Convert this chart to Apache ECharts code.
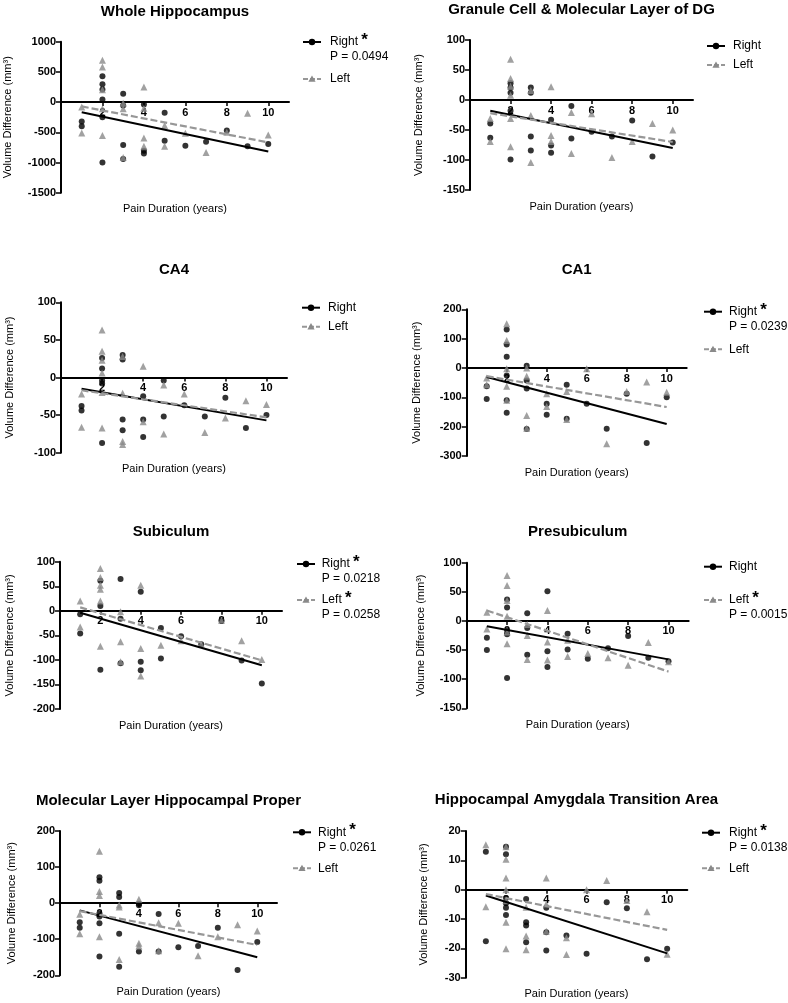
<!DOCTYPE html>
<html>
<head>
<meta charset="utf-8">
<script src="https://cdn.jsdelivr.net/npm/echarts@6/dist/echarts.min.js"></script>
<style>
html,body{margin:0;padding:0;background:#fff;}
#chart{width:788px;height:1003px;}
</style>
</head>
<body>
<div id="chart"></div>
<script>
// ---------- DATA ----------
const titles = ["Whole Hippocampus", "Granule Cell & Molecular Layer of DG", "CA4", "CA1",
  "Subiculum", "Presubiculum", "Molecular Layer Hippocampal Proper", "Hippocampal Amygdala Transition Area"];
const xTicks = [2, 4, 6, 8, 10];
const xTitle = "Pain Duration (years)";
const yTitle = "Volume Difference (mm³)";
const yMins = [-1500, -150, -100, -300, -200, -150, -200, -30];
const yMaxs = [1000, 100, 100, 200, 100, 100, 200, 20];
const yIntervals = [500, 50, 50, 100, 50, 50, 100, 10];
const pRight = ["0.0494", null, null, "0.0239", "0.0218", null, "0.0261", "0.0138"];
const pLeft = [null, null, null, null, "0.0258", "0.0015", null, null];

const whole_right = [[1,-320],[1,-400],[2,430],[2,295],[2,210],[2,45],[2,-250],[2,-1000],[3,139],[3,-55],[3,-711],[3,-944],[4,-39],[4,-805],[4,-850],[5,-178],[5,-639],[6,-722],[7,-655],[8,-472],[9,-733],[10,-694]];
const whole_left = [[1,-83],[1,-511],[2,694],[2,583],[2,205],[2,-111],[2,-555],[3,-17],[3,-111],[3,-917],[4,250],[4,-100],[4,-594],[4,-733],[5,-389],[5,-733],[6,-517],[7,-833],[8,-500],[9,-183],[10,-544]];
const whole_right_fit = [[1,-167],[10,-817]];
const whole_left_fit = [[1,-72],[10,-667]];

const dg_right = [[1,-39],[1,-63],[2,28],[2,21],[2,12],[2,-18],[2,-99],[3,21],[3,12],[3,-61],[3,-84],[4,-33],[4,-76],[4,-88],[5,-10],[5,-64],[6,-53],[7,-61],[8,-34],[9,-94],[10,-71]];
const dg_left = [[1,-31],[1,-69],[2,68],[2,36],[2,23],[2,8],[2,-31],[2,-78],[3,16],[3,-26],[3,-104],[4,22],[4,-59],[4,-69],[5,-21],[5,-89],[6,-23],[7,-96],[8,-69],[9,-39],[10,-50]];
const dg_right_fit = [[1,-18],[10,-80]];
const dg_left_fit = [[1,-22],[10,-70]];

const ca4_right = [[1,-38],[1,-44],[2,26],[2,12],[2,-4],[2,-8],[2,-87],[3,30],[3,24],[3,-56],[3,-70],[4,-25],[4,-56],[4,-79],[5,-4],[5,-52],[6,-37],[7,-52],[8,-27],[9,-67],[10,-50]];
const ca4_left = [[1,-22],[1,-66],[2,63],[2,35],[2,23],[2,6],[2,-20],[2,-67],[3,28],[3,-21],[3,-85],[3,-89],[4,15],[4,-59],[5,-10],[5,-75],[6,-22],[7,-73],[8,-54],[9,-31],[10,-36]];
const ca4_right_fit = [[1,-15],[10,-57]];
const ca4_left_fit = [[1,-17],[10,-53]];

const ca1_right = [[1,-62],[1,-106],[2,131],[2,80],[2,38],[2,-26],[2,-110],[2,-153],[3,8],[3,-43],[3,-70],[3,-208],[4,-122],[4,-159],[5,-57],[5,-173],[6,-122],[7,-207],[8,-88],[9,-256],[10,-100]];
const ca1_left = [[1,-34],[1,-57],[2,151],[2,94],[2,-3],[2,-62],[2,-110],[3,0],[3,-28],[3,-162],[3,-205],[4,-88],[4,-131],[5,-80],[5,-176],[6,-3],[7,-258],[8,-80],[9,-48],[10,-83]];
const ca1_right_fit = [[1,-31],[10,-191]];
const ca1_left_fit = [[1,-28],[10,-133]];

const sub_right = [[1,-7],[1,-46],[2,61],[2,10],[2,-120],[3,65],[3,-16],[3,-107],[4,39],[4,-104],[4,-121],[5,-35],[5,-97],[6,-52],[7,-68],[8,-19],[9,-101],[10,-148]];
const sub_left = [[1,20],[1,-33],[2,86],[2,68],[2,52],[2,44],[2,20],[2,-72],[3,-2],[3,-63],[3,-104],[4,52],[4,-77],[4,-133],[5,-70],[6,-61],[7,-68],[8,-19],[9,-61],[10,-99]];
const sub_right_fit = [[1,-4],[10,-111]];
const sub_left_fit = [[1,7],[10,-101]];

const presub_right = [[1,-29],[1,-50],[2,37],[2,23],[2,-16],[2,-23],[2,-98],[3,13],[3,-12],[3,-58],[4,51],[4,-52],[4,-79],[5,-22],[5,-49],[6,-65],[7,-47],[8,-26],[9,-63],[10,-69]];
const presub_left = [[1,15],[1,-14],[2,78],[2,61],[2,35],[2,8],[2,-19],[2,-39],[3,-6],[3,-25],[3,-66],[4,18],[4,-36],[4,-67],[5,-33],[5,-61],[6,-56],[7,-63],[8,-76],[9,-37],[10,-70]];
const presub_right_fit = [[1,-9],[10,-66]];
const presub_left_fit = [[1,18],[10,-87]];

const ml_right = [[1,-53],[1,-68],[2,72],[2,62],[2,-28],[2,-37],[2,-56],[2,-148],[3,28],[3,17],[3,-85],[3,-176],[4,-2],[4,-6],[4,-134],[5,-30],[5,-134],[6,-122],[7,-119],[8,-68],[9,-185],[10,-108]];
const ml_left = [[1,-31],[1,-85],[2,144],[2,32],[2,21],[2,-93],[3,-5],[3,-11],[3,-156],[4,11],[4,-111],[4,-119],[5,-54],[5,-132],[6,-56],[7,-146],[8,-93],[9,-60],[10,-77]];
const ml_right_fit = [[1,-20],[10,-150]];
const ml_left_fit = [[1,-22],[10,-116]];

const hata_right = [[1,12.9],[1,-17.6],[2,14.6],[2,12.1],[2,-2.8],[2,-4.6],[2,-6.2],[2,-8.6],[3,-3.2],[3,-11.1],[3,-12.2],[3,-17.9],[4,-6.2],[4,-14.5],[4,-20.7],[5,-15.6],[6,-21.8],[7,-4.3],[8,-6.3],[9,-23.7],[10,-20.1]];
const hata_left = [[1,15.3],[1,-5.8],[2,14.6],[2,10.4],[2,4.0],[2,0],[2,-3.7],[2,-11.1],[2,-20.1],[3,-6.0],[3,-15.8],[3,-20.5],[4,4.0],[4,-4.9],[4,-14.2],[5,-16.4],[5,-22.1],[6,0],[7,3.1],[8,-3.7],[9,-7.5],[10,-22.0]];
const hata_right_fit = [[1,-2],[10,-21.7]];
const hata_left_fit = [[1,-1.5],[10,-13.7]];

const rightSets = [whole_right, dg_right, ca4_right, ca1_right, sub_right, presub_right, ml_right, hata_right];
const leftSets = [whole_left, dg_left, ca4_left, ca1_left, sub_left, presub_left, ml_left, hata_left];
const rightFits = [whole_right_fit, dg_right_fit, ca4_right_fit, ca1_right_fit, sub_right_fit, presub_right_fit, ml_right_fit, hata_right_fit];
const leftFits = [whole_left_fit, dg_left_fit, ca4_left_fit, ca1_left_fit, sub_left_fit, presub_left_fit, ml_left_fit, hata_left_fit];

// ---------- LAYOUT ----------
const FONT = '"Liberation Sans", Arial, Helvetica, sans-serif';
const BLACK = '#000000';
const GRAY = '#8a8a8a';
const GRAYLINE = '#979797';
const grids = [
  {left:61, top:41.7, width:228, height:151},
  {left:470, top:40, width:223, height:150},
  {left:61, top:302.3, width:226, height:150.4},
  {left:466.7, top:309.3, width:220, height:146.7},
  {left:60, top:561.7, width:222, height:147.3},
  {left:466.7, top:562.7, width:222, height:145.6},
  {left:60, top:831, width:217, height:144.3},
  {left:465.7, top:831, width:221.6, height:146.7}
];
const titleY = [12, 10, 270, 270, 532, 532, 801, 800];
const yTitleX = [8, 419, 10, 417, 10, 421, 12, 424];
const legendPos = [
  {lx:303, tx:330, ry:42, ly:79},
  {lx:707, tx:733, ry:46, ly:65},
  {lx:302, tx:328, ry:307.7, ly:326.7},
  {lx:704, tx:729, ry:311.7, ly:349.3},
  {lx:297, tx:321.7, ry:564, ly:600},
  {lx:704, tx:729, ry:566.7, ly:600},
  {lx:293, tx:318, ry:832.3, ly:868.3},
  {lx:702, tx:729, ry:832.7, ly:868.3}
];

const chart = echarts.init(document.getElementById('chart'), null, {renderer:'canvas'});

const gridOpt = [], xAxes = [], yAxes = [], series = [], graphics = [];

for (let i = 0; i < 8; i++) {
  const g = grids[i];
  // distance from grid bottom to the y = 0 line, through the y scale
  const zeroOffset = g.height * (0 - yMins[i]) / (yMaxs[i] - yMins[i]);
  gridOpt.push({left:g.left, top:g.top, width:g.width, height:g.height, containLabel:false});
  xAxes.push({
    gridIndex:i, type:'value', min:0, max:11, position:'bottom', offset:-zeroOffset,
    axisLine:{show:true, onZero:false, lineStyle:{color:BLACK, width:2}},
    axisTick:{show:true, customValues:xTicks, length:4, lineStyle:{color:BLACK, width:1.5}},
    axisLabel:{show:true, customValues:xTicks, color:BLACK, fontWeight:'bold', fontSize:11, fontFamily:FONT, margin:5},
    splitLine:{show:false}
  });
  yAxes.push({
    gridIndex:i, type:'value', min:yMins[i], max:yMaxs[i], interval:yIntervals[i],
    axisLine:{show:true, onZero:false, lineStyle:{color:BLACK, width:2}},
    axisTick:{show:true, length:5, lineStyle:{color:BLACK, width:1.5}},
    axisLabel:{color:BLACK, fontWeight:'bold', fontSize:11, fontFamily:FONT, margin:5, formatter:(v) => String(v)},
    splitLine:{show:false}
  });
  series.push({
    type:'scatter', xAxisIndex:i, yAxisIndex:i, data:rightSets[i], symbol:'circle', symbolSize:6,
    itemStyle:{color:BLACK}, z:3, silent:true
  });
  series.push({
    type:'scatter', xAxisIndex:i, yAxisIndex:i, data:leftSets[i], symbol:'triangle', symbolSize:7,
    itemStyle:{color:GRAY}, z:4, silent:true
  });
  series.push({
    type:'line', xAxisIndex:i, yAxisIndex:i, data:rightFits[i], showSymbol:false, symbol:'none',
    lineStyle:{color:BLACK, width:2}, z:5, silent:true, animation:false
  });
  series.push({
    type:'line', xAxisIndex:i, yAxisIndex:i, data:leftFits[i], showSymbol:false, symbol:'none',
    lineStyle:{color:GRAYLINE, width:2.2, type:[7,3]}, z:5, silent:true, animation:false
  });

  const cx = g.left + g.width / 2;
  graphics.push({type:'text', x:cx, y:titleY[i], style:{text:titles[i], fill:BLACK, font:'bold 15px ' + FONT, textAlign:'center', textVerticalAlign:'middle'}});
  graphics.push({type:'text', x:cx, y:g.top + g.height + 16.5, style:{text:xTitle, fill:BLACK, font:'11px ' + FONT, textAlign:'center', textVerticalAlign:'middle'}});
  graphics.push({type:'text', x:yTitleX[i], y:g.top + g.height / 2, rotation:Math.PI / 2,
    style:{text:yTitle, fill:BLACK, font:'11px ' + FONT, textAlign:'center', textVerticalAlign:'middle'}});

  const L = legendPos[i];
  graphics.push({type:'line', shape:{x1:L.lx, y1:L.ry, x2:L.lx + 18, y2:L.ry}, style:{stroke:BLACK, lineWidth:2}});
  graphics.push({type:'circle', shape:{cx:L.lx + 9, cy:L.ry, r:3.2}, style:{fill:BLACK}});
  graphics.push({type:'text', x:L.tx, y:L.ry, style:{
    text: pRight[i] ? 'Right {s|*}' : 'Right', fill:BLACK, font:'12px ' + FONT, textVerticalAlign:'middle',
    rich:{s:{fontSize:17, fontWeight:'bold', fontFamily:FONT, fill:BLACK, padding:[0,0,3,0]}}}});
  if (pRight[i]) {
    graphics.push({type:'text', x:L.tx, y:L.ry + 15, style:{text:'P = ' + pRight[i], fill:BLACK, font:'12px ' + FONT, textVerticalAlign:'middle'}});
  }
  graphics.push({type:'line', shape:{x1:L.lx, y1:L.ly, x2:L.lx + 18, y2:L.ly}, style:{stroke:GRAYLINE, lineWidth:2, lineDash:[5,2]}});
  graphics.push({type:'polygon', shape:{points:[[L.lx + 9, L.ly - 3.6],[L.lx + 12.6, L.ly + 2.8],[L.lx + 5.4, L.ly + 2.8]]}, style:{fill:GRAY}});
  graphics.push({type:'text', x:L.tx, y:L.ly, style:{
    text: pLeft[i] ? 'Left {s|*}' : 'Left', fill:BLACK, font:'12px ' + FONT, textVerticalAlign:'middle',
    rich:{s:{fontSize:17, fontWeight:'bold', fontFamily:FONT, fill:BLACK, padding:[0,0,3,0]}}}});
  if (pLeft[i]) {
    graphics.push({type:'text', x:L.tx, y:L.ly + 15, style:{text:'P = ' + pLeft[i], fill:BLACK, font:'12px ' + FONT, textVerticalAlign:'middle'}});
  }
}

chart.setOption({
  animation:false,
  backgroundColor:'#ffffff',
  textStyle:{fontFamily:FONT},
  grid:gridOpt,
  xAxis:xAxes,
  yAxis:yAxes,
  series:series,
  graphic:{elements:graphics}
});
</script>
</body>
</html>
